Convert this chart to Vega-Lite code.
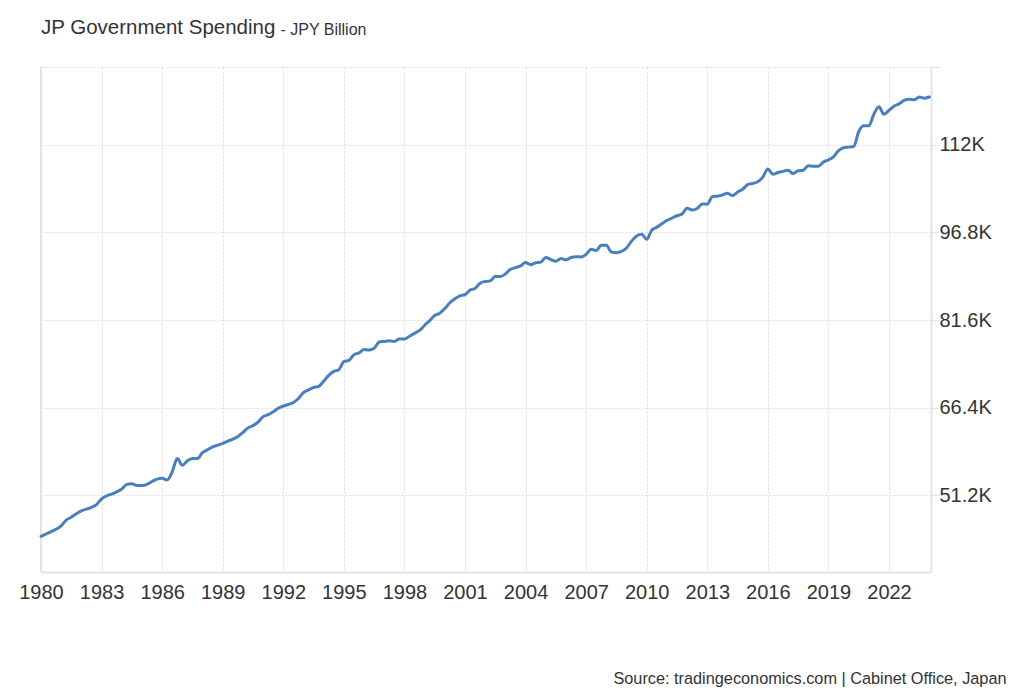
{
  "$schema": "https://vega.github.io/schema/vega-lite/v6.json",
  "width": 890,
  "height": 505,
  "autosize": "none",
  "padding": {"left": 41, "top": 67, "right": 93, "bottom": 128},
  "background": "white",
  "config": {"view": {"stroke": null}, "font": "Liberation Sans"},
  "title": {
    "text": "JP Government Spending",
    "anchor": "start",
    "frame": "group",
    "fontSize": 20.5,
    "fontWeight": "normal",
    "color": "#333333",
    "font": "Liberation Sans",
    "baseline": "alphabetic",
    "offset": -33
  },
  "data": {
    "values": [
      {"year": 1980.0, "value": 44100},
      {"year": 1980.5, "value": 44900},
      {"year": 1981.0, "value": 45900},
      {"year": 1981.25, "value": 46900},
      {"year": 1981.5, "value": 47400},
      {"year": 1981.75, "value": 48000},
      {"year": 1982.0, "value": 48500},
      {"year": 1982.5, "value": 49100},
      {"year": 1982.75, "value": 49600},
      {"year": 1983.0, "value": 50600},
      {"year": 1983.25, "value": 51100},
      {"year": 1983.5, "value": 51400},
      {"year": 1983.75, "value": 51800},
      {"year": 1984.0, "value": 52300},
      {"year": 1984.25, "value": 53100},
      {"year": 1984.5, "value": 53200},
      {"year": 1984.75, "value": 52900},
      {"year": 1985.0, "value": 52900},
      {"year": 1985.25, "value": 53100},
      {"year": 1985.5, "value": 53600},
      {"year": 1985.75, "value": 54000},
      {"year": 1986.0, "value": 54150},
      {"year": 1986.25, "value": 53850},
      {"year": 1986.5, "value": 55300},
      {"year": 1986.75, "value": 57600},
      {"year": 1987.0, "value": 56400},
      {"year": 1987.25, "value": 57200},
      {"year": 1987.5, "value": 57600},
      {"year": 1987.75, "value": 57600},
      {"year": 1988.0, "value": 58600},
      {"year": 1988.25, "value": 59100},
      {"year": 1988.5, "value": 59600},
      {"year": 1988.75, "value": 59900},
      {"year": 1989.0, "value": 60200},
      {"year": 1989.25, "value": 60600},
      {"year": 1989.5, "value": 60950},
      {"year": 1989.75, "value": 61400},
      {"year": 1990.0, "value": 62100},
      {"year": 1990.25, "value": 62900},
      {"year": 1990.5, "value": 63300},
      {"year": 1990.75, "value": 63900},
      {"year": 1991.0, "value": 64850},
      {"year": 1991.25, "value": 65200},
      {"year": 1991.5, "value": 65700},
      {"year": 1991.75, "value": 66300},
      {"year": 1992.0, "value": 66700},
      {"year": 1992.25, "value": 66950},
      {"year": 1992.5, "value": 67300},
      {"year": 1992.75, "value": 68000},
      {"year": 1993.0, "value": 69000},
      {"year": 1993.25, "value": 69500},
      {"year": 1993.5, "value": 69900},
      {"year": 1993.75, "value": 70100},
      {"year": 1994.0, "value": 71000},
      {"year": 1994.25, "value": 72000},
      {"year": 1994.5, "value": 72700},
      {"year": 1994.75, "value": 73000},
      {"year": 1995.0, "value": 74400},
      {"year": 1995.25, "value": 74600},
      {"year": 1995.5, "value": 75600},
      {"year": 1995.75, "value": 75900},
      {"year": 1996.0, "value": 76500},
      {"year": 1996.25, "value": 76400},
      {"year": 1996.5, "value": 76700},
      {"year": 1996.75, "value": 77800},
      {"year": 1997.0, "value": 77900},
      {"year": 1997.25, "value": 78000},
      {"year": 1997.5, "value": 77900},
      {"year": 1997.75, "value": 78300},
      {"year": 1998.0, "value": 78300},
      {"year": 1998.25, "value": 78800},
      {"year": 1998.5, "value": 79300},
      {"year": 1998.75, "value": 79800},
      {"year": 1999.0, "value": 80700},
      {"year": 1999.25, "value": 81500},
      {"year": 1999.5, "value": 82400},
      {"year": 1999.75, "value": 82800},
      {"year": 2000.0, "value": 83600},
      {"year": 2000.25, "value": 84600},
      {"year": 2000.5, "value": 85300},
      {"year": 2000.75, "value": 85800},
      {"year": 2001.0, "value": 86000},
      {"year": 2001.25, "value": 86800},
      {"year": 2001.5, "value": 87100},
      {"year": 2001.75, "value": 88000},
      {"year": 2002.0, "value": 88300},
      {"year": 2002.25, "value": 88400},
      {"year": 2002.5, "value": 89200},
      {"year": 2002.75, "value": 89150},
      {"year": 2003.0, "value": 89600},
      {"year": 2003.25, "value": 90400},
      {"year": 2003.5, "value": 90700},
      {"year": 2003.75, "value": 91000},
      {"year": 2004.0, "value": 91600},
      {"year": 2004.25, "value": 91200},
      {"year": 2004.5, "value": 91550},
      {"year": 2004.75, "value": 91650},
      {"year": 2005.0, "value": 92450},
      {"year": 2005.25, "value": 92100},
      {"year": 2005.5, "value": 91800},
      {"year": 2005.75, "value": 92300},
      {"year": 2006.0, "value": 92050},
      {"year": 2006.25, "value": 92450},
      {"year": 2006.5, "value": 92600},
      {"year": 2006.75, "value": 92550},
      {"year": 2007.0, "value": 93000},
      {"year": 2007.25, "value": 93900},
      {"year": 2007.5, "value": 93650},
      {"year": 2007.75, "value": 94600},
      {"year": 2008.0, "value": 94600},
      {"year": 2008.25, "value": 93400},
      {"year": 2008.5, "value": 93300},
      {"year": 2008.75, "value": 93500},
      {"year": 2009.0, "value": 94100},
      {"year": 2009.25, "value": 95300},
      {"year": 2009.5, "value": 96200},
      {"year": 2009.75, "value": 96500},
      {"year": 2010.0, "value": 95600},
      {"year": 2010.25, "value": 97200},
      {"year": 2010.5, "value": 97700},
      {"year": 2010.75, "value": 98300},
      {"year": 2011.0, "value": 98900},
      {"year": 2011.25, "value": 99300},
      {"year": 2011.5, "value": 99700},
      {"year": 2011.75, "value": 100000},
      {"year": 2012.0, "value": 101000},
      {"year": 2012.25, "value": 100700},
      {"year": 2012.5, "value": 100950},
      {"year": 2012.75, "value": 101750},
      {"year": 2013.0, "value": 101700},
      {"year": 2013.25, "value": 103000},
      {"year": 2013.5, "value": 103100},
      {"year": 2013.75, "value": 103300},
      {"year": 2014.0, "value": 103600},
      {"year": 2014.25, "value": 103200},
      {"year": 2014.5, "value": 103800},
      {"year": 2014.75, "value": 104300},
      {"year": 2015.0, "value": 105100},
      {"year": 2015.25, "value": 105300},
      {"year": 2015.5, "value": 105600},
      {"year": 2015.75, "value": 106400},
      {"year": 2016.0, "value": 107800},
      {"year": 2016.25, "value": 106900},
      {"year": 2016.5, "value": 107200},
      {"year": 2016.75, "value": 107400},
      {"year": 2017.0, "value": 107600},
      {"year": 2017.25, "value": 107000},
      {"year": 2017.5, "value": 107500},
      {"year": 2017.75, "value": 107600},
      {"year": 2018.0, "value": 108350},
      {"year": 2018.25, "value": 108300},
      {"year": 2018.5, "value": 108300},
      {"year": 2018.75, "value": 109000},
      {"year": 2019.0, "value": 109400},
      {"year": 2019.25, "value": 109900},
      {"year": 2019.5, "value": 111000},
      {"year": 2019.75, "value": 111500},
      {"year": 2020.0, "value": 111600},
      {"year": 2020.25, "value": 111700},
      {"year": 2020.5, "value": 114300},
      {"year": 2020.75, "value": 115300},
      {"year": 2021.0, "value": 115300},
      {"year": 2021.25, "value": 117300},
      {"year": 2021.5, "value": 118600},
      {"year": 2021.75, "value": 117300},
      {"year": 2022.0, "value": 118000},
      {"year": 2022.25, "value": 118700},
      {"year": 2022.5, "value": 119100},
      {"year": 2022.75, "value": 119700},
      {"year": 2023.0, "value": 119900},
      {"year": 2023.25, "value": 119800},
      {"year": 2023.5, "value": 120300},
      {"year": 2023.75, "value": 120100},
      {"year": 2024.0, "value": 120300}
    ]
  },
  "layer": [
    {
      "mark": {"type": "rule", "color": "#e3e3e3", "strokeWidth": 2},
      "encoding": {
        "x": {"datum": 1980, "type": "quantitative", "scale": {"domain": [1980, 2024.08], "nice": false, "zero": false}}
      }
    },
    {
      "mark": {"type": "line", "interpolate": "monotone", "color": "#4a7fbf", "strokeWidth": 3, "strokeCap": "round", "strokeJoin": "round"},
      "encoding": {
        "x": {
          "field": "year",
          "type": "quantitative",
          "scale": {"domain": [1980, 2024.08], "nice": false, "zero": false},
          "axis": {
            "values": [1980, 1983, 1986, 1989, 1992, 1995, 1998, 2001, 2004, 2007, 2010, 2013, 2016, 2019, 2022],
            "format": "d",
            "grid": true,
            "gridDash": [2, 2],
            "gridColor": "#dcdcdc",
            "gridWidth": 1,
            "ticks": false,
            "labelPadding": 10,
            "labelFontSize": 20,
            "labelColor": "#333333",
            "labelFont": "Liberation Sans",
            "labelBaseline": "top",
            "labelFlush": false,
            "labelOverlap": false,
            "domainColor": "#e3e3e3",
            "domainWidth": 2,
            "title": "Source: tradingeconomics.com | Cabinet Office, Japan",
            "titleX": 965,
            "titleY": 111,
            "titleAlign": "right",
            "titleAnchor": null,
            "titleBaseline": "alphabetic",
            "titleFontSize": 16.3,
            "titleFontWeight": "normal",
            "titleColor": "#333333",
            "titleFont": "Liberation Sans"
          }
        },
        "y": {
          "field": "value",
          "type": "quantitative",
          "scale": {"domain": [37900, 125500], "nice": false, "zero": false},
          "axis": {
            "orient": "right",
            "values": [51200, 66400, 81600, 96800, 112000, 125500],
            "labelExpr": "datum.value > 120000 ? '' : format(datum.value / 1000, '.1~f') + 'K'",
            "grid": true,
            "gridDash": [2, 2],
            "gridColor": "#dcdcdc",
            "gridWidth": 1,
            "tickColor": "#e3e3e3",
            "tickSize": 8,
            "labelPadding": 0,
            "labelFontSize": 20,
            "labelColor": "#333333",
            "labelFont": "Liberation Sans",
            "labelBaseline": "middle",
            "labelFlush": false,
            "labelOverlap": false,
            "domainColor": "#e3e3e3",
            "domainWidth": 2,
            "title": "- JPY Billion",
            "titleAngle": 0,
            "titleX": -651,
            "titleY": -33,
            "titleAlign": "left",
            "titleBaseline": "alphabetic",
            "titleFontSize": 16,
            "titleFontWeight": "normal",
            "titleColor": "#333333",
            "titleFont": "Liberation Sans"
          }
        }
      }
    }
  ]
}
